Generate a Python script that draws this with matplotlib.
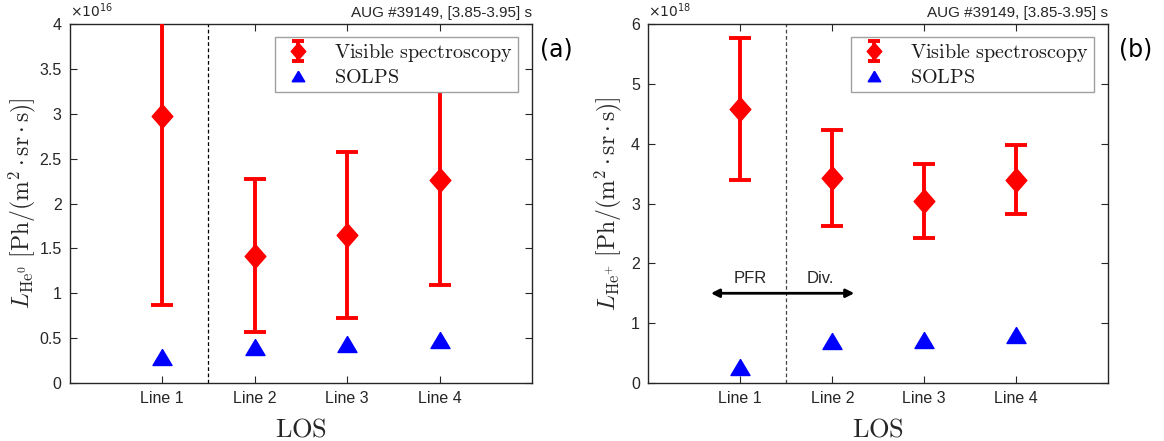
import matplotlib
matplotlib.use("Agg")
import matplotlib.pyplot as plt
import numpy as np

# line-of-sight labels
los_labels = ["Line 1", "Line 2", "Line 3", "Line 4"]
los_pos = [1, 2, 3, 4]

# He0 brightness, units of 1e16 Ph/(m2 sr s)
vis_a = [2.98, 1.42, 1.65, 2.26]
err_a = [2.11, 0.85, 0.925, 1.17]
solps_a = [0.29, 0.40, 0.43, 0.475]

# He+ brightness, units of 1e18 Ph/(m2 sr s)
vis_b = [4.58, 3.43, 3.04, 3.40]
err_b = [1.19, 0.80, 0.615, 0.575]
solps_b = [0.26, 0.70, 0.72, 0.81]

shot_text = "AUG #39149, [3.85-3.95] s"

plt.rcParams['font.family'] = ['Liberation Sans', 'DejaVu Sans']
plt.rcParams['mathtext.fontset'] = 'dejavusans'

fig = plt.figure(figsize=(11.64, 4.41), dpi=100)
ax1 = fig.add_axes([0.060, 0.1315, 0.397, 0.814])
ax2 = fig.add_axes([0.557, 0.1315, 0.395, 0.814])

tick_col = '#262626'

# MATLAB-like marker shapes: slightly tall diamond, flat triangle
diamond = [(0, 1), (0.875, 0), (0, -1), (-0.875, 0), (0, 1)]
triangle = [(0, 0.84), (-1, -0.84), (1, -0.84), (0, 0.84)]


def draw_panel(ax, vis, err, solps, ymax, yticks, exp_label, species, tag,
               tag_x, ylab_x, vline_col):
    ax.axvline(1.5, color=vline_col, ls='--', lw=0.9, dashes=(3, 2), zorder=1)
    ax.errorbar(los_pos, vis, yerr=err, fmt='none', ecolor='red',
                lw=2.8, capsize=8, capthick=2.8, zorder=3)
    ax.plot(los_pos, vis, ls='none', marker=diamond, ms=17, color='red', zorder=4)
    ax.plot(los_pos, solps, ls='none', marker=triangle, ms=13.7, color='blue', zorder=3)

    # smaller handles for the legend
    vis_h = ax.errorbar([np.nan], [np.nan], yerr=[1], fmt='none', ecolor='red',
                        lw=2.8, capsize=4, capthick=2.8)
    vis_m, = ax.plot([np.nan], [np.nan], ls='none', marker=diamond, ms=12, color='red')
    tri_h, = ax.plot([np.nan], [np.nan], ls='none', marker=triangle, ms=9, color='blue')

    ax.set_xlim(0, 5)
    ax.set_ylim(0, ymax)
    ax.set_xticks(los_pos)
    ax.set_xticklabels(los_labels)
    ax.set_yticks(yticks)
    ax.set_yticklabels(['%g' % v for v in yticks])
    ax.tick_params(direction='in', top=True, right=True, length=5, width=0.8,
                   labelsize=11.5, colors=tick_col, labelcolor=tick_col, pad=6)
    for sp in ax.spines.values():
        sp.set_linewidth(1.0)
        sp.set_color(tick_col)
    ax.set_xlabel(r'$\mathrm{LOS}$', fontsize=19, math_fontfamily='cm',
                  color=tick_col, labelpad=8)
    ax.set_ylabel(r'$L_{\mathrm{He}^{' + species + r'}}\ [\mathrm{Ph}/(\mathrm{m}^2\cdot\mathrm{sr}\cdot\mathrm{s})]$',
                  fontsize=17, math_fontfamily='cm', color=tick_col)
    ax.yaxis.set_label_coords(ylab_x, 0.5)
    ax.text(0.0, 1.012, r'$\times10^{' + exp_label + '}$', transform=ax.transAxes,
            fontsize=10, color=tick_col, ha='left', va='bottom')
    ax.text(1.0, 1.012, shot_text, transform=ax.transAxes, fontsize=11,
            color=tick_col, ha='right', va='bottom')
    ax.text(tag_x, 0.93, tag, transform=ax.transAxes, fontsize=17,
            family='DejaVu Sans', ha='center', va='center')

    leg = ax.legend([(vis_h, vis_m), tri_h],
                    [r'$\mathrm{Visible\ spectroscopy}$', r'$\mathrm{SOLPS}$'],
                    loc='upper right', bbox_to_anchor=(0.97, 0.964), borderaxespad=0,
                    fancybox=False, framealpha=1, edgecolor='#a0a0a0',
                    fontsize=14.5, handlelength=1.8, handletextpad=0.9,
                    borderpad=0.25, labelspacing=0.2)
    leg.get_frame().set_linewidth(1.0)
    leg.set_zorder(5)
    for t in leg.get_texts():
        t.set_math_fontfamily('cm')
        t.set_color('#1a1a1a')


draw_panel(ax1, vis_a, err_a, solps_a, 4, np.arange(0, 4.01, 0.5), '16', '0', '(a)',
           1.052, -0.069, 'k')
draw_panel(ax2, vis_b, err_b, solps_b, 6, np.arange(0, 7, 1), '18', '+', '(b)',
           1.059, -0.054, '#444444')

# PFR / divertor split arrow
ax2.annotate('', xy=(0.65, 1.5), xytext=(2.27, 1.5),
             arrowprops=dict(arrowstyle='<|-|>', color='k', lw=2, mutation_scale=12))
ax2.text(1.11, 1.62, 'PFR', fontsize=12, ha='center', va='bottom', color=tick_col)
ax2.text(1.87, 1.62, 'Div.', fontsize=12, ha='center', va='bottom', color=tick_col)

fig.savefig('out.png', dpi=100)
